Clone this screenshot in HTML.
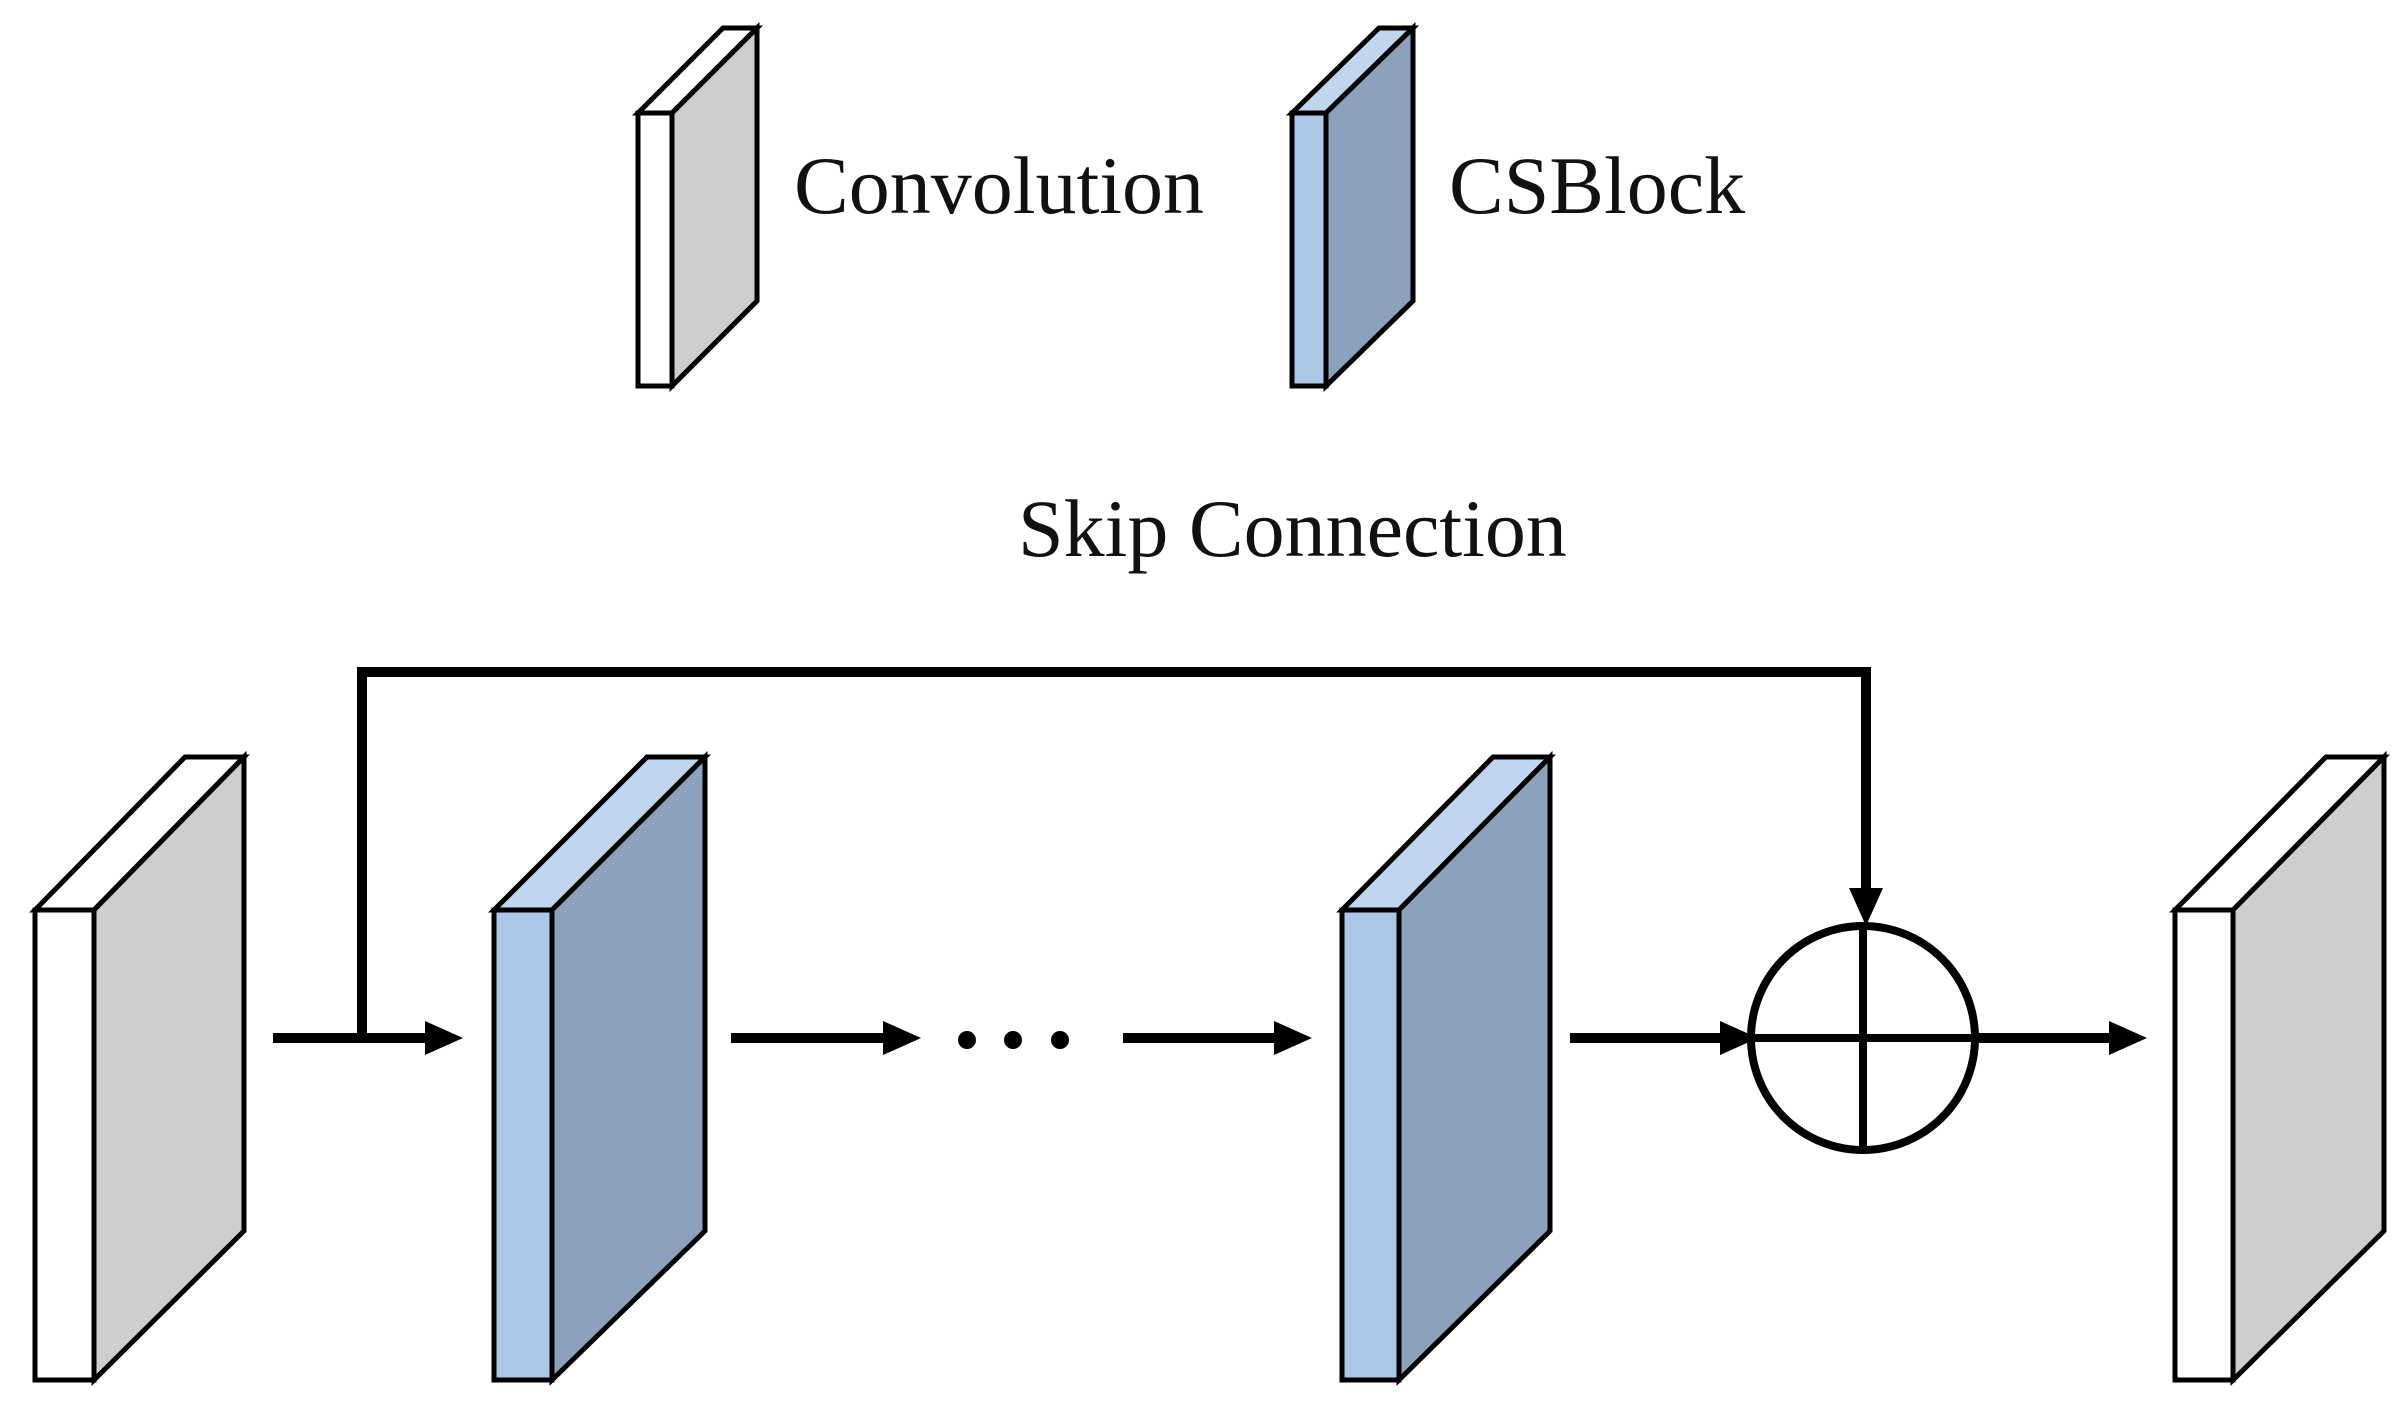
<!DOCTYPE html>
<html><head><meta charset="utf-8"><style>html,body{margin:0;padding:0;background:#fff}svg{display:block}</style></head>
<body>
<svg width="2406" height="1407" viewBox="0 0 2406 1407" xmlns="http://www.w3.org/2000/svg">
<g stroke="#000" stroke-width="5" stroke-linejoin="miter">
<polygon points="638,113 672,113 757,28 723,28" fill="#fff"/>
<polygon points="672,113 757,28 757,301 672,386" fill="#cecece"/>
<rect x="638" y="113" width="34" height="273" fill="#fff"/>
<polygon points="1292,113 1326,113 1413,28 1379,28" fill="#c0d5ee"/>
<polygon points="1326,113 1413,28 1413,301 1326,386" fill="#8ca1bc"/>
<rect x="1292" y="113" width="34" height="273" fill="#adc7e8"/>
<polygon points="35,910 94,910 244,757 185,757" fill="#fff"/>
<polygon points="94,910 244,757 244,1231 94,1380" fill="#cecece"/>
<rect x="35" y="910" width="59" height="470" fill="#fff"/>
<polygon points="494,910 552,910 705,757 647,757" fill="#c0d5ee"/>
<polygon points="552,910 705,757 705,1231 552,1380" fill="#8ca1bc"/>
<rect x="494" y="910" width="58" height="470" fill="#adc7e8"/>
<polygon points="1342,910 1399,910 1550,757 1493,757" fill="#c0d5ee"/>
<polygon points="1399,910 1550,757 1550,1231 1399,1380" fill="#8ca1bc"/>
<rect x="1342" y="910" width="57" height="470" fill="#adc7e8"/>
<polygon points="2175,910 2233,910 2384,757 2326,757" fill="#fff"/>
<polygon points="2233,910 2384,757 2384,1231 2233,1380" fill="#cecece"/>
<rect x="2175" y="910" width="58" height="470" fill="#fff"/>
</g>
<g stroke="#000" stroke-width="10" fill="none">
<line x1="273" y1="1038" x2="430" y2="1038"/>
<polyline points="362,1038 362,672 1866,672 1866,890"/>
<line x1="731" y1="1038" x2="885" y2="1038"/>
<line x1="1123" y1="1038" x2="1276" y2="1038"/>
<line x1="1570" y1="1038" x2="1720" y2="1038"/>
<line x1="1976" y1="1038" x2="2110" y2="1038"/>
<circle cx="1863" cy="1038" r="112" stroke-width="8"/>
<line x1="1863" y1="926" x2="1863" y2="1150" stroke-width="8"/>
<line x1="1751" y1="1038" x2="1975" y2="1038" stroke-width="8"/>
</g>
<g fill="#000">
<polygon points="463,1038 425,1021 425,1055"/>
<polygon points="921,1038 883,1021 883,1055"/>
<polygon points="1312,1038 1274,1021 1274,1055"/>
<polygon points="1758,1038 1720,1021 1720,1055"/>
<polygon points="2147,1038 2109,1021 2109,1055"/>
<polygon points="1866,926 1849,888 1883,888"/>
<circle cx="967" cy="1040" r="9"/>
<circle cx="1013" cy="1040" r="9"/>
<circle cx="1060" cy="1040" r="9"/>
</g>
<g font-family="Liberation Serif, serif" font-size="82" fill="#111">
<text x="794" y="213">Convolution</text>
<text x="1449" y="213">CSBlock</text>
<text x="1018" y="556">Skip Connection</text>
</g>
</svg>
</body></html>
